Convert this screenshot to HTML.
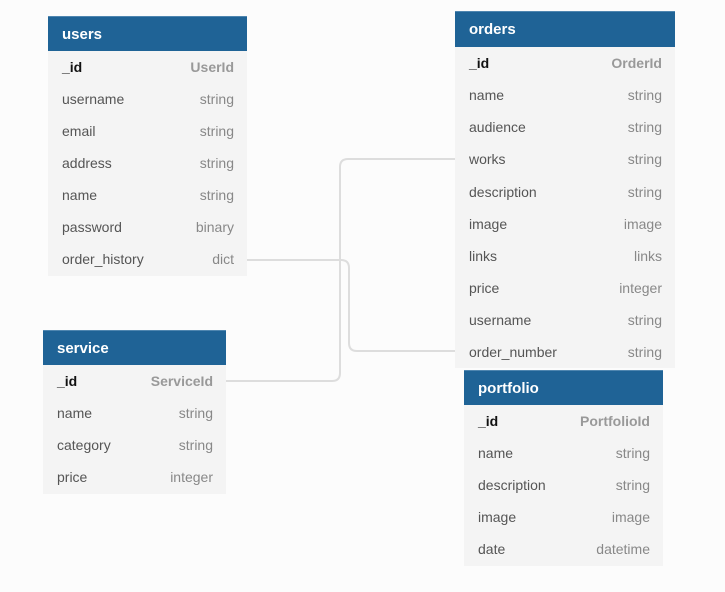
<!DOCTYPE html>
<html><head><style>
body{margin:0;width:725px;height:592px;background:#fcfcfc;position:relative;overflow:hidden;font-family:"Liberation Sans",sans-serif;}
.t{position:absolute;background:#f4f4f4;}
.h{background:#1f6396;color:#fff;font-weight:bold;font-size:15px;height:35px;line-height:35px;padding-left:14px;border-top:1px solid #4f86b0;box-sizing:border-box}
.r{height:32px;line-height:32px;font-size:14px;color:#555;padding:0 13px 0 14px;display:flex;justify-content:space-between}
.r span:last-child{color:#888}
.r.k span:first-child{color:#111;font-weight:bold}
.r.k span:last-child{color:#999;font-weight:bold}
#o .r{height:32.15px;line-height:32.15px}
</style></head><body>
<svg width="725" height="592" style="position:absolute;left:0;top:0">
<path d="M226 381 H332 Q340 381 340 373 V167 Q340 159 348 159 H456" fill="none" stroke="#ddd" stroke-width="2"/>
<path d="M247 260 H341 Q349 260 349 268 V343 Q349 351 357 351 H456" fill="none" stroke="#ddd" stroke-width="2"/>
</svg>
<div class="t" style="left:48px;top:16px;width:199px;height:260px">
<div class="h">users</div>
<div class="r k"><span>_id</span><span>UserId</span></div>
<div class="r"><span>username</span><span>string</span></div>
<div class="r"><span>email</span><span>string</span></div>
<div class="r"><span>address</span><span>string</span></div>
<div class="r"><span>name</span><span>string</span></div>
<div class="r"><span>password</span><span>binary</span></div>
<div class="r"><span>order_history</span><span>dict</span></div>
</div>
<div class="t" id="o" style="left:455px;top:11px;width:220px;height:357px">
<div class="h" style="height:36px;line-height:35px">orders</div>
<div class="r k"><span>_id</span><span>OrderId</span></div>
<div class="r"><span>name</span><span>string</span></div>
<div class="r"><span>audience</span><span>string</span></div>
<div class="r"><span>works</span><span>string</span></div>
<div class="r"><span>description</span><span>string</span></div>
<div class="r"><span>image</span><span>image</span></div>
<div class="r"><span>links</span><span>links</span></div>
<div class="r"><span>price</span><span>integer</span></div>
<div class="r"><span>username</span><span>string</span></div>
<div class="r"><span>order_number</span><span>string</span></div>
</div>
<div class="t" style="left:43px;top:330px;width:183px;height:164px">
<div class="h">service</div>
<div class="r k"><span>_id</span><span>ServiceId</span></div>
<div class="r"><span>name</span><span>string</span></div>
<div class="r"><span>category</span><span>string</span></div>
<div class="r"><span>price</span><span>integer</span></div>
</div>
<div class="t" style="left:464px;top:370px;width:199px;height:196px">
<div class="h">portfolio</div>
<div class="r k"><span>_id</span><span>PortfolioId</span></div>
<div class="r"><span>name</span><span>string</span></div>
<div class="r"><span>description</span><span>string</span></div>
<div class="r"><span>image</span><span>image</span></div>
<div class="r"><span>date</span><span>datetime</span></div>
</div>
</body></html>
